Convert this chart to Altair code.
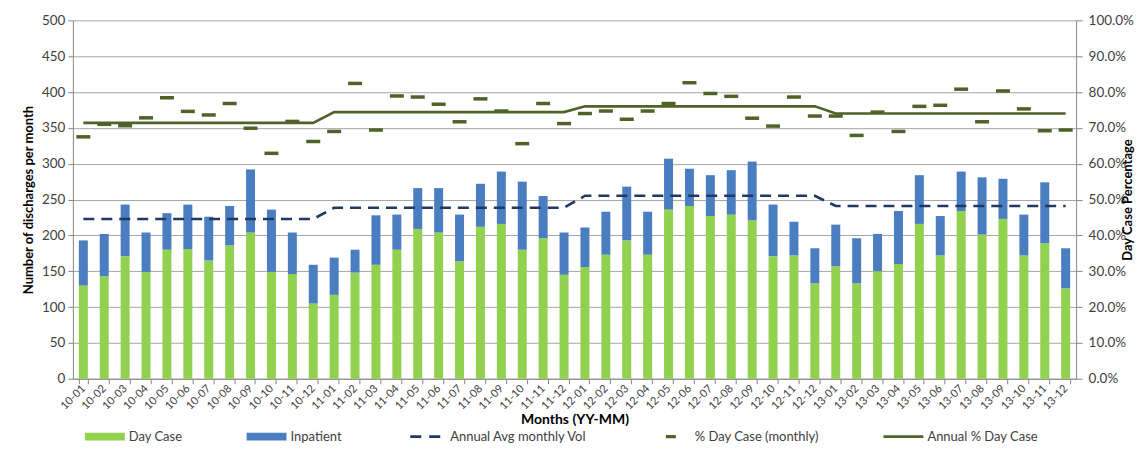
import altair as alt
import pandas as pd

months = ["10-01", "10-02", "10-03", "10-04", "10-05", "10-06", "10-07", "10-08", "10-09", "10-10", "10-11", "10-12",
          "11-01", "11-02", "11-03", "11-04", "11-05", "11-06", "11-07", "11-08", "11-09", "11-10", "11-11", "11-12",
          "12-01", "12-02", "12-03", "12-04", "12-05", "12-06", "12-07", "12-08", "12-09", "12-10", "12-11", "12-12",
          "13-01", "13-02", "13-03", "13-04", "13-05", "13-06", "13-07", "13-08", "13-09", "13-10", "13-11", "13-12"]

day_case = [130, 143, 171, 149, 180, 181, 165, 186, 204, 149, 146, 105,
            117, 148, 159, 180, 209, 204, 164, 212, 216, 180, 196, 145,
            156, 173, 193, 173, 236, 241, 227, 229, 221, 171, 172, 133,
            157, 133, 150, 160, 216, 172, 234, 201, 223, 172, 189, 126]

inpatient = [63, 59, 72, 55, 51, 62, 61, 55, 88, 87, 58, 54,
             52, 32, 69, 49, 57, 62, 65, 60, 73, 95, 59, 59,
             55, 60, 75, 60, 71, 52, 57, 62, 82, 72, 47, 49,
             58, 63, 52, 74, 68, 55, 55, 80, 56, 57, 85, 56]

pct_day_case = [0.675, 0.710, 0.706, 0.728, 0.784, 0.746, 0.736, 0.768, 0.699, 0.629, 0.718, 0.662,
                0.690, 0.824, 0.694, 0.789, 0.786, 0.766, 0.717, 0.781, 0.747, 0.656, 0.768, 0.712,
                0.740, 0.747, 0.724, 0.747, 0.768, 0.826, 0.796, 0.788, 0.727, 0.705, 0.786, 0.733,
                0.733, 0.679, 0.744, 0.690, 0.760, 0.763, 0.808, 0.717, 0.803, 0.753, 0.692, 0.694]

year_labels = ["10", "11", "12", "13"]
annual_avg_vol = [222.9, 238.5, 255.3, 241.0]
annual_pct = [0.714, 0.744, 0.760, 0.740]

series_names = ["Day Case", "Inpatient", "Annual Avg monthly Vol", "% Day Case (monthly)", "Annual % Day Case"]
series_colors = ["#92D050", "#4A7EC1", "#1F3864", "#4F6228", "#4F6228"]
legend_shapes = [
    "M-1,-0.2L1,-0.2L1,0.2L-1,0.2Z",
    "M-1,-0.2L1,-0.2L1,0.2L-1,0.2Z",
    "M-0.8,-0.07L-0.25,-0.07L-0.25,0.07L-0.8,0.07Z M0.15,-0.07L0.7,-0.07L0.7,0.07L0.15,0.07Z",
    "M-0.25,-0.08L0.25,-0.08L0.25,0.08L-0.25,0.08Z",
    "M-1,-0.07L1,-0.07L1,0.07L-1,0.07Z",
]

# ---- tables built from the arrays ----
bar_rows = []
for i, m in enumerate(months):
    bar_rows.append({"month": m, "series": series_names[0], "value": day_case[i], "ord": 0})
    bar_rows.append({"month": m, "series": series_names[1], "value": inpatient[i], "ord": 1})
bars_df = pd.DataFrame(bar_rows)

yidx = {y: i for i, y in enumerate(year_labels)}
line_df = pd.DataFrame({
    "month": months,
    "pct": pct_day_case,
    "avg_vol": [annual_avg_vol[yidx[m[:2]]] for m in months],
    "annual_pct": [annual_pct[yidx[m[:2]]] for m in months],
})
legend_df = pd.DataFrame({"series": series_names, "month": [months[0]] * 5, "pct": [0.5] * 5})

FONT = "Lato"
GRAY = "#868686"
LBL = "#404040"

x_enc = alt.X("month:N", sort=months,
              scale=alt.Scale(paddingInner=0.57, paddingOuter=0.285),
              axis=alt.Axis(title="Months (YY-MM)", titleFontSize=14, titleFontWeight="bold",
                            titleColor="#000000", titlePadding=1,
                            labelAngle=315, labelAlign="right", labelBaseline="middle",
                            labelFontSize=11, labelColor=LBL, labelPadding=3,
                            tickBand="extent",
                            domainColor=GRAY, tickColor=GRAY, tickSize=5, grid=False))

left_title = "Number of discharges per month"
left_scale = alt.Scale(domain=[0, 500])
left_axis = alt.Axis(values=list(range(0, 501, 50)), grid=True, gridColor="#A6A6A6",
                     labelFontSize=13.5, labelColor=LBL, labelPadding=3,
                     titleFontSize=13, titleFontWeight="bold", titleColor="#000000", titlePadding=6,
                     domainColor=GRAY, tickColor=GRAY, tickSize=5)

right_title = "Day Case Percentage"
right_scale = alt.Scale(domain=[0, 1])
right_axis = alt.Axis(orient="right", format=".1%", values=[i / 10 for i in range(11)], grid=False,
                      labelFontSize=13.5, labelColor=LBL, labelPadding=6,
                      titleFontSize=13, titleFontWeight="bold", titleColor="#000000",
                      titleAngle=270, titlePadding=1,
                      domainColor=GRAY, tickColor=GRAY, tickSize=6)

bars = alt.Chart(bars_df).mark_bar().encode(
    x=x_enc,
    y=alt.Y("value:Q", stack="zero", scale=left_scale, axis=left_axis, title=left_title),
    fill=alt.Fill("series:N", scale=alt.Scale(domain=series_names[:2], range=series_colors[:2]), legend=None),
    order=alt.Order("ord:Q"),
)

avg_line = alt.Chart(line_df).mark_line(strokeDash=[11, 7], strokeWidth=2.6, color="#1F3864").encode(
    x=x_enc,
    y=alt.Y("avg_vol:Q", scale=left_scale, axis=left_axis, title=left_title),
)

left = alt.layer(bars, avg_line)

ticks = alt.Chart(line_df).mark_tick(size=14, thickness=3.5, color="#4F6228", opacity=1).encode(
    x=x_enc,
    y=alt.Y("pct:Q", scale=right_scale, axis=right_axis, title=right_title),
)

pct_line = alt.Chart(line_df).mark_line(strokeWidth=2.6, color="#4F6228").encode(
    x=x_enc,
    y=alt.Y("annual_pct:Q", scale=right_scale, axis=right_axis, title=right_title),
)

leg = alt.Legend(title=None, orient="none", legendX=12, legendY=397, direction="horizontal",
                 symbolSize=1600, symbolOpacity=1, symbolStrokeWidth=0,
                 labelFontSize=13, labelColor=LBL, labelFont=FONT, labelOffset=4,
                 columnPadding=64, labelLimit=300)

legend_layer = alt.Chart(legend_df).mark_point(filled=True, opacity=0).encode(
    x=x_enc,
    y=alt.Y("pct:Q", scale=right_scale, axis=right_axis, title=right_title),
    color=alt.Color("series:N", scale=alt.Scale(domain=series_names, range=series_colors), legend=leg),
    shape=alt.Shape("series:N", scale=alt.Scale(domain=series_names, range=legend_shapes), legend=leg),
)

right = alt.layer(ticks, pct_line, legend_layer)

chart = alt.layer(left, right).resolve_scale(y="independent").properties(
    width=1005, height=359,
    autosize=alt.AutoSizeParams(type="none"),
    padding={"left": 65, "top": 12, "right": 64, "bottom": 67},
).configure(font=FONT).configure_view(stroke="transparent")

chart.save("out.html", embed_options={"renderer": "svg", "actions": False})
